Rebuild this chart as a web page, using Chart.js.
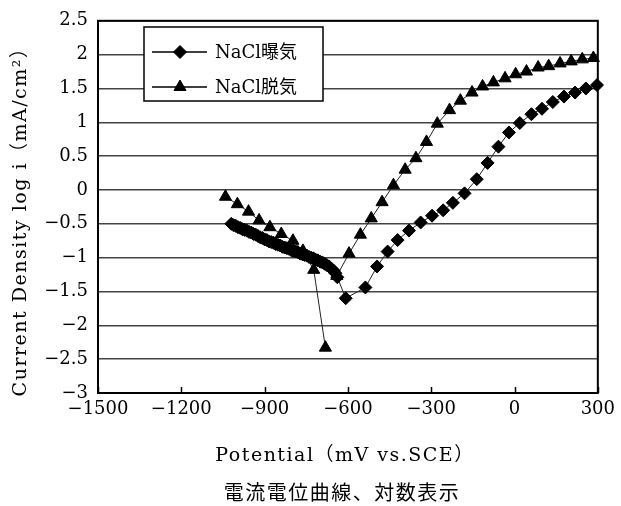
<!DOCTYPE html>
<html><head><meta charset="utf-8">
<script src="https://cdn.jsdelivr.net/npm/chart.js@4"></script>
<style>html,body{margin:0;padding:0;background:#fff}#wrap{width:621px;height:506px}</style>
</head><body><div id="wrap"><canvas id="c" width="621" height="506"></canvas></div>
<script>
// ---- data ----
const seriesNames = ['NaCl曝気', 'NaCl脱気'];
const aeratedPotential = [-1020,-1012,-1004,-996,-988,-980,-972,-964,-956,-948,-940,-932,-924,-916,-908,-900,-892,-884,-876,-868,-860,-852,-844,-836,-828,-820,-812,-804,-796,-788,-780,-772,-764,-756,-748,-740,-732,-724,-716,-708,-700,-692,-684,-676,-668,-660,-652,-645,-638,-608,-537,-495,-457,-421,-380,-338,-297,-257,-222,-180,-136,-97,-58,-20,19,61,99,138,178,218,257,297];
const aeratedLogI = [-0.50,-0.52,-0.53,-0.55,-0.56,-0.58,-0.59,-0.60,-0.62,-0.63,-0.65,-0.66,-0.68,-0.70,-0.71,-0.73,-0.74,-0.76,-0.77,-0.78,-0.80,-0.81,-0.82,-0.84,-0.85,-0.86,-0.87,-0.89,-0.90,-0.91,-0.92,-0.94,-0.95,-0.96,-0.97,-0.99,-1.00,-1.01,-1.03,-1.04,-1.06,-1.07,-1.09,-1.11,-1.13,-1.16,-1.19,-1.23,-1.29,-1.60,-1.44,-1.13,-0.91,-0.74,-0.60,-0.48,-0.38,-0.30,-0.19,-0.05,0.16,0.40,0.64,0.85,0.99,1.12,1.20,1.30,1.38,1.44,1.50,1.55];
const deaeratedPotential = [-1041,-998,-958,-920,-881,-840,-798,-762,-723,-681,-660,-640,-596,-555,-516,-477,-436,-394,-355,-317,-278,-234,-195,-153,-115,-76,-34,4,43,85,123,164,204,244,284];
const deaeratedLogI = [-0.10,-0.21,-0.32,-0.45,-0.55,-0.65,-0.75,-0.90,-1.18,-2.33,null,-1.27,-0.94,-0.66,-0.42,-0.18,0.07,0.30,0.47,0.71,0.98,1.18,1.32,1.44,1.53,1.59,1.65,1.71,1.75,1.81,1.83,1.87,1.90,1.93,1.95];
const xTickValues = [-1500,-1200,-900,-600,-300,0,300];
const xTickLabels = ['−1500','−1200','−900','−600','−300','0','300'];
const yTickValues = [-3,-2.5,-2,-1.5,-1,-0.5,0,0.5,1,1.5,2,2.5];
const yTickLabels = ['−3','−2.5','−2','−1.5','−1','−0.5','0','0.5','1','1.5','2','2.5'];
const xTitle = 'Potential（mV vs.SCE）';
const yTitle = 'Current Density log i（mA/cm²）';
const caption = '電流電位曲線、対数表示';

const SERIF = "'DejaVu Serif', 'Noto Sans CJK JP', serif";
const markerStyles = ['rectRot', 'triangle'];
const markerRadius = [6.5, 7];

function pts(xs, ys) { return xs.map((x, i) => ({x: x, y: ys[i]})); }

const decor = {
  id: 'decor',
  afterDatasetsDraw(chart) {
    const ctx = chart.ctx, a = chart.chartArea, xs = chart.scales.x;
    ctx.save();
    // frame
    ctx.strokeStyle = '#000'; ctx.lineWidth = 2;
    ctx.strokeRect(a.left, a.top, a.right - a.left, a.bottom - a.top);
    // inward x tick marks
    ctx.lineWidth = 1.5;
    xTickValues.forEach(v => {
      const px = Math.round(xs.getPixelForValue(v)) + 0.5;
      ctx.beginPath(); ctx.moveTo(px, a.bottom); ctx.lineTo(px, a.bottom - 6); ctx.stroke();
    });
    // legend
    const bx = 144, by = 27, bw = 179, bh = 74;
    ctx.fillStyle = '#fff'; ctx.fillRect(bx, by, bw, bh);
    ctx.strokeStyle = '#000'; ctx.lineWidth = 1.5; ctx.strokeRect(bx, by, bw, bh);
    const rows = [52, 87];
    chart.data.datasets.forEach((ds, i) => {
      const y = rows[i];
      ctx.strokeStyle = '#000'; ctx.lineWidth = 1.5;
      ctx.beginPath(); ctx.moveTo(152, y); ctx.lineTo(207, y); ctx.stroke();
      ctx.fillStyle = '#000'; ctx.lineWidth = 1;
      Chart.helpers.drawPoint(ctx, {pointStyle: markerStyles[i], radius: markerRadius[i], rotation: 0, borderWidth: 1}, 180, y);
      ctx.fillStyle = '#000';
      ctx.font = "18px " + SERIF;
      ctx.textAlign = 'left'; ctx.textBaseline = 'middle';
      ctx.fillText(ds.label, 215, y + 1);
    });
    // axis titles and caption
    ctx.fillStyle = '#000';
    ctx.textAlign = 'center'; ctx.textBaseline = 'middle';
    ctx.font = "19px " + SERIF;
    ctx.letterSpacing = '1.5px';
    ctx.fillText(xTitle, 345, 456);
    ctx.font = "20px 'Noto Sans CJK JP', sans-serif";
    ctx.letterSpacing = '1.5px';
    ctx.fillText(caption, 342, 492);
    ctx.save();
    ctx.translate(21, 217); ctx.rotate(-Math.PI / 2);
    ctx.font = "19px " + SERIF;
    ctx.letterSpacing = '1.5px';
    ctx.fillText(yTitle, 0, 0);
    ctx.restore();
    ctx.letterSpacing = '0px';
    ctx.restore();
  }
};

new Chart(document.getElementById('c'), {
  type: 'scatter',
  data: {
    datasets: [
      {label: seriesNames[0], data: pts(aeratedPotential, aeratedLogI), showLine: true, borderColor: '#222', borderWidth: 1,
       pointStyle: markerStyles[0], pointRadius: markerRadius[0], pointBackgroundColor: '#000', pointBorderColor: '#000', pointBorderWidth: 1, clip: false},
      {label: seriesNames[1], data: pts(deaeratedPotential, deaeratedLogI), showLine: true, borderColor: '#222', borderWidth: 1,
       pointStyle: markerStyles[1], pointRadius: markerRadius[1], pointBackgroundColor: '#000', pointBorderColor: '#000', pointBorderWidth: 1, clip: false, spanGaps: false}
    ]
  },
  options: {
    responsive: false, animation: false, devicePixelRatio: 1,
    layout: {padding: {left: 0, right: 18, top: 16, bottom: 0}},
    plugins: {legend: {display: false}, tooltip: {enabled: false}},
    scales: {
      x: {
        type: 'linear', min: -1500, max: 300,
        afterBuildTicks: s => { s.ticks = xTickValues.map(v => ({value: v})); },
        afterFit: s => { s.height = 113; },
        grid: {display: false, drawTicks: false}, border: {display: false},
        ticks: {color: '#000', font: {family: SERIF, size: 18}, padding: 6, maxRotation: 0,
                callback: v => xTickLabels[xTickValues.indexOf(v)]}
      },
      y: {
        type: 'linear', min: -3, max: 2.5,
        afterBuildTicks: s => { s.ticks = yTickValues.map(v => ({value: v})); },
        afterFit: s => { s.width = 98; },
        grid: {color: '#444', lineWidth: 1.5, drawTicks: false}, border: {display: false},
        ticks: {color: '#000', font: {family: SERIF, size: 18}, padding: 10,
                callback: v => yTickLabels[yTickValues.indexOf(v)]}
      }
    }
  },
  plugins: [decor]
});
</script></body></html>
